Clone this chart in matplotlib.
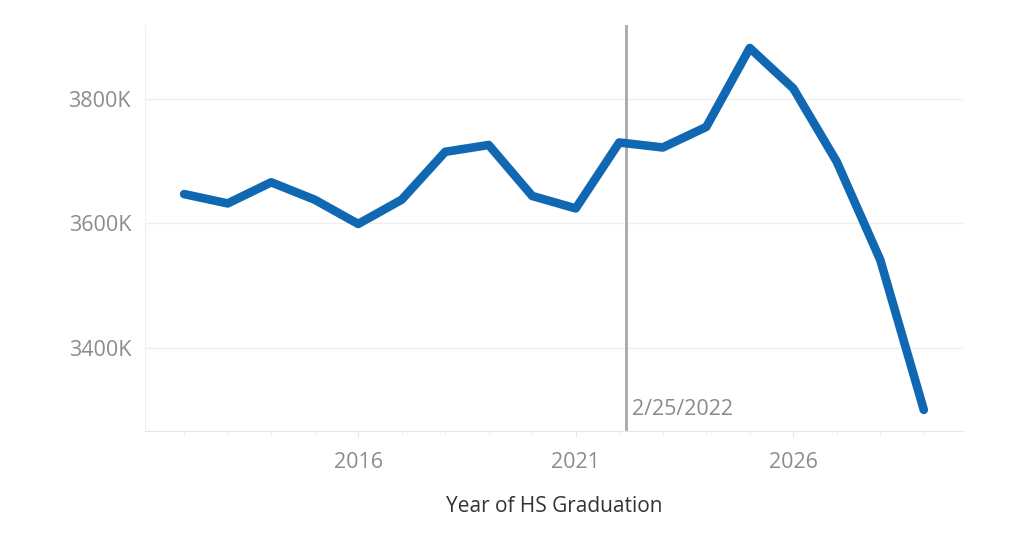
import matplotlib
matplotlib.use("Agg")
import matplotlib.pyplot as plt
from matplotlib.ticker import FuncFormatter, MultipleLocator

years = [2012, 2013, 2014, 2015, 2016, 2017, 2018, 2019, 2020,
         2021, 2022, 2023, 2024, 2025, 2026, 2027, 2028, 2029]
graduates_k = [3647, 3632, 3666, 3638, 3599, 3638, 3715, 3726, 3644,
               3624, 3730, 3722, 3755, 3882, 3817, 3699, 3541, 3300]
xtick_years = [2016, 2021, 2026]
ytick_vals = [3400, 3600, 3800]
ref_date_label = "2/25/2022"
ref_date_pos = 2022 + 55 / 365

plt.rcParams['font.family'] = ['Open Sans', 'DejaVu Sans']

fig = plt.figure(figsize=(10.24, 5.36), dpi=100)
ax = fig.add_axes([0.1416, 0.1959, 0.9404 - 0.1416, 0.9534 - 0.1959])

ax.plot(years, graduates_k, color='#1068b3', lw=6.2, solid_joinstyle='round',
        solid_capstyle='round', zorder=3)

ax.axvline(ref_date_pos, color='#a8a8a8', lw=2.0, zorder=2)
ax.text(ref_date_pos + 0.15, 3283, ref_date_label, color='#8a8a8a',
        fontsize=15.5, ha='left', va='bottom')

ax.set_xlim(2011.1, 2029.9)
ax.set_ylim(3266, 3919)

ax.set_yticks(ytick_vals)
ax.yaxis.set_major_formatter(FuncFormatter(lambda v, p: f"{int(v)}K"))
ax.set_xticks(xtick_years)
ax.xaxis.set_minor_locator(MultipleLocator(1))
ax.grid(axis='y', color='#efefef', lw=1.0)
ax.set_axisbelow(True)

for s in ['top', 'right']:
    ax.spines[s].set_visible(False)
ax.spines['left'].set_color('#f0f0f0')
ax.spines['bottom'].set_color('#e6e6e6')

ax.tick_params(axis='y', length=0, pad=10, labelsize=15.5, labelcolor='#8c8c8c')
ax.tick_params(axis='x', which='major', length=4, color='#e6e6e6', pad=11,
               labelsize=15.5, labelcolor='#8c8c8c')
ax.tick_params(axis='x', which='minor', length=3, color='#ececec')

ax.set_xlabel("Year of HS Graduation", fontsize=15, color='#333333', labelpad=17)

fig.savefig("out.png", dpi=100, facecolor='white')
